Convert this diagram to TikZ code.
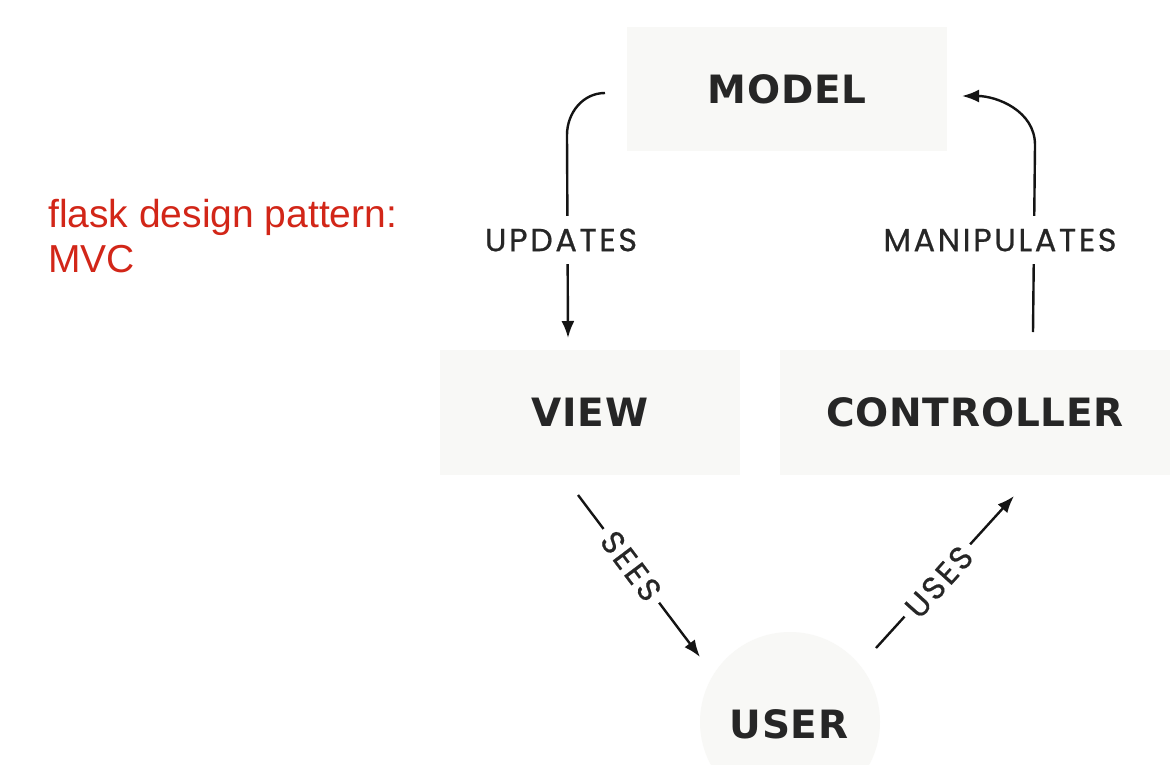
\documentclass[tikz,border=0pt]{standalone}
\usepackage{fontspec}
\setmainfont{DejaVu Sans}
\newfontfamily\titlefont{Liberation Sans}
\newfontfamily\boxfont[LetterSpace=2]{DejaVu Sans}
\newfontfamily\edgefont[LetterSpace=8,FakeBold=0.6]{Poppins}
\usetikzlibrary{arrows.meta,calc}

\definecolor{boxgray}{RGB}{248,248,246}
\definecolor{titlered}{RGB}{210,38,24}

\tikzset{
  part/.style={fill=boxgray, draw=none, font=\boxfont\bfseries\fontsize{39}{39}\selectfont, text=black!85},
  conn/.style={line width=2.4pt, black!92},
  tip/.style={-{Latex[length=17pt,width=13pt]}},
  edgelabel/.style={fill=white, font=\edgefont\fontsize{32}{32}\selectfont, text=black!85, inner xsep=6pt, inner ysep=13pt},
}

\begin{document}
\begin{tikzpicture}[x=1pt,y=-1pt]
  \useasboundingbox (0,0) rectangle (1170,764);
  \fill[white] (0,0) rectangle (1170,764);

  % title, anchored on the baseline of its last line
  \node[anchor=base west, text=titlered, font=\titlefont\fontsize{39}{45}\selectfont, inner sep=0pt, align=left]
    (title) at (48,272) {flask design pattern:\\MVC};

  % the three parts and the user
  \node[part, minimum width=320pt, minimum height=124pt] (model) at (787,89) {MODEL};
  \node[part, minimum width=300pt, minimum height=125pt] (view) at (590,412) {VIEW};
  \node[part, minimum width=390pt, minimum height=125pt] (controller) at (975,412) {CONTROLLER};
  \node[part, circle, minimum size=180pt] (user) at (790,722) {};
  \node[font=\boxfont\bfseries\fontsize{39}{39}\selectfont, text=black!85] (usertext) at (789,724) {USER};

  % free ends of the connectors
  \coordinate (upd-a) at (605,93);
  \coordinate (upd-b) at (568,338);
  \coordinate (man-a) at (1033,332);
  \coordinate (man-b) at (962,96);
  \coordinate (see-a) at (578,495);
  \coordinate (see-b) at (700,657);
  \coordinate (use-a) at (876,648);
  \coordinate (use-b) at (1014,496);

  % connectors
  \draw[conn, tip] (upd-a) to[out=180, in=90] (567,135) -- (upd-b);
  \draw[conn, tip] (man-a) -- (1035,145) to[out=90, in=0] (man-b);
  \draw[conn, tip] (see-a) -- (see-b);
  \draw[conn, tip] (use-a) -- (use-b);

  % connector labels
  \node[edgelabel] (updates) at (561,240) {UPDATES};
  \node[edgelabel] (manipulates) at (1000,240) {MANIPULATES};
  \node[edgelabel, rotate=-53, inner ysep=3pt, inner xsep=7pt] (sees) at (631,566) {SEES};
  \node[edgelabel, rotate=48, inner ysep=3pt, inner xsep=7pt] (uses) at (939,582) {USES};
\end{tikzpicture}
\end{document}
